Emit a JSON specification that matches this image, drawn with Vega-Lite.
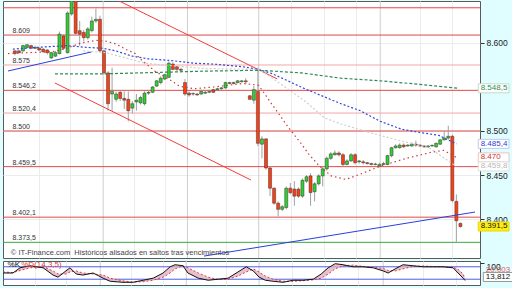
{
"$schema": "https://vega.github.io/schema/vega-lite/v6.json",
"background": "#e0fdff",
"padding": 0,
"spacing": 1,
"config": {
 "locale": {"number": {"decimal": ",", "thousands": ".", "grouping": [3], "currency": ["", ""]}},
 "font": "Liberation Sans",
 "view": {"stroke": "#5a5a5a", "fill": "#ffffff"},
 "axis": {"labelFont": "Liberation Sans", "labelFontSize": 8.5, "labelColor": "#222222", "tickColor": "#333333", "domain": false, "gridColor": "#ececec", "gridWidth": 1}
},
"resolve": {"scale": {"x": "independent", "y": "independent", "color": "independent", "fill": "independent", "stroke": "independent", "strokeDash": "independent"}},
"datasets": {
 "seps": [{"n": 21.8}, {"n": 42.6}, {"n": 60.2}, {"n": 90.2}],
 "levels": [
  {"v": 8640, "k": "r", "lab": ""},
  {"v": 8609, "k": "r", "lab": "8.609"},
  {"v": 8575, "k": "p", "lab": "8.575"},
  {"v": 8546.2, "k": "r", "lab": "8.546,2"},
  {"v": 8520.4, "k": "p", "lab": "8.520,4"},
  {"v": 8500, "k": "r", "lab": "8.500"},
  {"v": 8459.5, "k": "r", "lab": "8.459,5"},
  {"v": 8402.1, "k": "r", "lab": "8.402,1"},
  {"v": 8373.5, "k": "g", "lab": "8.373,5"}
 ],
 "candles": [
  {"n":0,"o":8591,"h":8592,"l":8586,"c":8588},
  {"n":1,"o":8591,"h":8592,"l":8588,"c":8589},
  {"n":2,"o":8591,"h":8598,"l":8590,"c":8597},
  {"n":3,"o":8595,"h":8599,"l":8594,"c":8598},
  {"n":4,"o":8597,"h":8598,"l":8593,"c":8594},
  {"n":5,"o":8594,"h":8597,"l":8593,"c":8595},
  {"n":6,"o":8594,"h":8595,"l":8591,"c":8592},
  {"n":7,"o":8593,"h":8594,"l":8589,"c":8590},
  {"n":8,"o":8592,"h":8593,"l":8587,"c":8589},
  {"n":9,"o":8583,"h":8590,"l":8582,"c":8589},
  {"n":10,"o":8585,"h":8591,"l":8584,"c":8589},
  {"n":11,"o":8588,"h":8613,"l":8587,"c":8610},
  {"n":12,"o":8608,"h":8610,"l":8592,"c":8594},
  {"n":13,"o":8589,"h":8636,"l":8588,"c":8634},
  {"n":14,"o":8633,"h":8662,"l":8631,"c":8659},
  {"n":15,"o":8653,"h":8658,"l":8609,"c":8611},
  {"n":16,"o":8614,"h":8625,"l":8597,"c":8610},
  {"n":17,"o":8612,"h":8615,"l":8602,"c":8606},
  {"n":18,"o":8606,"h":8618,"l":8604,"c":8616},
  {"n":19,"o":8614,"h":8630,"l":8612,"c":8625},
  {"n":20,"o":8625,"h":8639,"l":8623,"c":8627},
  {"n":21,"o":8627,"h":8631,"l":8589,"c":8591},
  {"n":22,"o":8591,"h":8592,"l":8564,"c":8566},
  {"n":23,"o":8566,"h":8568,"l":8523,"c":8531},
  {"n":24,"o":8542,"h":8572,"l":8523,"c":8545},
  {"n":25,"o":8536,"h":8545,"l":8533,"c":8542},
  {"n":26,"o":8544,"h":8546,"l":8534,"c":8537},
  {"n":27,"o":8537,"h":8545,"l":8525,"c":8535},
  {"n":28,"o":8536,"h":8545,"l":8511,"c":8523},
  {"n":29,"o":8526,"h":8534,"l":8520,"c":8531},
  {"n":30,"o":8533,"h":8542,"l":8523,"c":8535},
  {"n":31,"o":8532,"h":8540,"l":8530,"c":8538},
  {"n":32,"o":8531,"h":8545,"l":8529,"c":8543},
  {"n":33,"o":8543,"h":8546,"l":8541,"c":8544},
  {"n":34,"o":8544,"h":8551,"l":8543,"c":8550},
  {"n":35,"o":8551,"h":8558,"l":8550,"c":8557},
  {"n":36,"o":8555,"h":8562,"l":8553,"c":8560},
  {"n":37,"o":8559,"h":8565,"l":8558,"c":8564},
  {"n":38,"o":8561,"h":8579,"l":8560,"c":8577},
  {"n":39,"o":8576,"h":8578,"l":8569,"c":8570},
  {"n":40,"o":8573,"h":8574,"l":8568,"c":8570},
  {"n":41,"o":8570,"h":8572,"l":8567,"c":8569},
  {"n":42,"o":8555,"h":8559,"l":8540,"c":8542},
  {"n":43,"o":8543,"h":8545,"l":8539,"c":8541},
  {"n":44,"o":8542,"h":8544,"l":8540,"c":8542.5},
  {"n":45,"o":8542,"h":8543,"l":8540,"c":8541},
  {"n":46,"o":8542,"h":8547,"l":8541,"c":8545},
  {"n":47,"o":8543,"h":8546,"l":8542,"c":8544},
  {"n":48,"o":8544,"h":8547,"l":8543,"c":8545},
  {"n":49,"o":8547,"h":8548,"l":8543,"c":8544},
  {"n":50,"o":8547,"h":8549,"l":8546,"c":8548},
  {"n":51,"o":8548,"h":8550,"l":8547,"c":8549},
  {"n":52,"o":8549,"h":8556,"l":8548,"c":8555},
  {"n":53,"o":8554,"h":8556,"l":8553,"c":8555},
  {"n":54,"o":8555,"h":8556,"l":8553,"c":8554},
  {"n":55,"o":8555,"h":8558,"l":8554,"c":8557},
  {"n":56,"o":8556,"h":8558,"l":8555,"c":8557},
  {"n":57,"o":8557,"h":8560,"l":8553,"c":8556},
  {"n":58,"o":8540,"h":8541,"l":8535,"c":8536},
  {"n":59,"o":8535,"h":8551,"l":8531,"c":8547},
  {"n":60,"o":8545,"h":8572,"l":8483,"c":8486},
  {"n":61,"o":8485,"h":8494,"l":8469,"c":8491},
  {"n":62,"o":8491,"h":8492,"l":8456,"c":8458},
  {"n":63,"o":8458,"h":8460,"l":8426,"c":8435},
  {"n":64,"o":8435,"h":8436,"l":8416,"c":8418},
  {"n":65,"o":8418,"h":8420,"l":8403,"c":8411},
  {"n":66,"o":8411,"h":8416,"l":8409,"c":8414},
  {"n":67,"o":8413,"h":8437,"l":8411,"c":8435},
  {"n":68,"o":8435,"h":8441,"l":8428,"c":8430},
  {"n":69,"o":8434,"h":8443,"l":8415,"c":8426},
  {"n":70,"o":8434,"h":8436,"l":8424,"c":8426},
  {"n":71,"o":8426,"h":8446,"l":8424,"c":8444},
  {"n":72,"o":8443,"h":8450,"l":8441,"c":8448},
  {"n":73,"o":8449,"h":8452,"l":8415,"c":8430},
  {"n":74,"o":8431,"h":8442,"l":8420,"c":8440},
  {"n":75,"o":8440,"h":8451,"l":8438,"c":8449},
  {"n":76,"o":8449,"h":8460,"l":8437,"c":8457},
  {"n":77,"o":8457,"h":8471,"l":8455,"c":8469},
  {"n":78,"o":8469,"h":8476,"l":8467,"c":8474},
  {"n":79,"o":8473,"h":8478,"l":8472,"c":8475},
  {"n":80,"o":8475,"h":8477,"l":8471,"c":8473},
  {"n":81,"o":8473,"h":8475,"l":8460,"c":8462},
  {"n":82,"o":8462,"h":8468,"l":8461,"c":8466},
  {"n":83,"o":8466,"h":8475,"l":8465,"c":8473},
  {"n":84,"o":8473,"h":8475,"l":8462,"c":8464},
  {"n":85,"o":8465,"h":8467,"l":8463,"c":8466},
  {"n":86,"o":8465,"h":8467,"l":8462,"c":8464},
  {"n":87,"o":8464,"h":8465,"l":8462,"c":8463},
  {"n":88,"o":8463,"h":8464,"l":8461,"c":8462},
  {"n":89,"o":8462,"h":8464,"l":8461,"c":8462.5},
  {"n":90,"o":8460,"h":8464,"l":8459,"c":8462},
  {"n":91,"o":8462,"h":8465,"l":8461,"c":8463},
  {"n":92,"o":8462,"h":8473,"l":8461,"c":8472},
  {"n":93,"o":8472,"h":8482,"l":8470,"c":8481},
  {"n":94,"o":8481,"h":8485,"l":8480,"c":8483},
  {"n":95,"o":8481,"h":8486,"l":8480,"c":8484},
  {"n":96,"o":8484,"h":8486,"l":8481,"c":8482},
  {"n":97,"o":8483,"h":8485,"l":8482,"c":8484},
  {"n":98,"o":8483,"h":8487,"l":8482,"c":8485},
  {"n":99,"o":8485,"h":8489,"l":8482,"c":8484},
  {"n":100,"o":8484,"h":8485,"l":8482,"c":8483},
  {"n":101,"o":8483,"h":8484,"l":8481,"c":8482},
  {"n":102,"o":8482,"h":8484,"l":8481,"c":8483},
  {"n":103,"o":8483,"h":8485,"l":8482,"c":8483.5},
  {"n":104,"o":8482,"h":8487,"l":8481,"c":8486},
  {"n":105,"o":8485,"h":8491,"l":8484,"c":8490},
  {"n":106,"o":8490,"h":8500,"l":8489,"c":8492},
  {"n":107,"o":8492,"h":8506,"l":8490,"c":8494},
  {"n":108,"o":8494,"h":8496,"l":8419,"c":8421},
  {"n":109,"o":8420,"h":8428,"l":8373,"c":8398},
  {"n":110,"o":8395,"h":8396,"l":8390,"c":8391.5}
 ],
 "trend": [
  {"seg": "a", "k": "red", "n": 20.1, "v": 8660.5},
  {"seg": "a", "k": "red", "n": 64.8, "v": 8559.1},
  {"seg": "b", "k": "red", "n": 9.9, "v": 8554.5},
  {"seg": "b", "k": "red", "n": 58.3, "v": 8444.3},
  {"seg": "c", "k": "blue", "n": -1.7, "v": 8568.2},
  {"seg": "c", "k": "blue", "n": 18.9, "v": 8589.8},
  {"seg": "d", "k": "blue", "n": 46.7, "v": 8357.9},
  {"seg": "d", "k": "blue", "n": 113.6, "v": 8407.9}
 ],
 "ma": [
  {"m":"blue","n":-0.5,"v":8593},{"m":"blue","n":5.6,"v":8595},{"m":"blue","n":12.8,"v":8597},{"m":"blue","n":17.6,"v":8595},{"m":"blue","n":21.8,"v":8594},{"m":"blue","n":24.9,"v":8591},{"m":"blue","n":29,"v":8585},{"m":"blue","n":32.9,"v":8582},{"m":"blue","n":38.7,"v":8580},{"m":"blue","n":44.2,"v":8577},{"m":"blue","n":49.1,"v":8576},{"m":"blue","n":56.3,"v":8573},{"m":"blue","n":60.2,"v":8570},{"m":"blue","n":63.6,"v":8565},{"m":"blue","n":71.6,"v":8548},{"m":"blue","n":80.5,"v":8531},{"m":"blue","n":85.3,"v":8523},{"m":"blue","n":90.2,"v":8511},{"m":"blue","n":95.5,"v":8502},{"m":"blue","n":99.1,"v":8499},{"m":"blue","n":104.7,"v":8495},{"m":"blue","n":109,"v":8485.4},
  {"m":"green","n":9.9,"v":8565},{"m":"green","n":22.5,"v":8565},{"m":"green","n":38.7,"v":8567},{"m":"green","n":46.7,"v":8568},{"m":"green","n":60.2,"v":8569},{"m":"green","n":70.8,"v":8566},{"m":"green","n":80.5,"v":8560},{"m":"green","n":90.2,"v":8557},{"m":"green","n":99.9,"v":8553},{"m":"green","n":109.5,"v":8548.5},
  {"m":"red","n":-1.7,"v":8588},{"m":"red","n":3.1,"v":8589},{"m":"red","n":9.2,"v":8590},{"m":"red","n":12.8,"v":8594},{"m":"red","n":16.4,"v":8600},{"m":"red","n":20.1,"v":8603},{"m":"red","n":22.5,"v":8602},{"m":"red","n":24.9,"v":8599},{"m":"red","n":27.3,"v":8593},{"m":"red","n":29.7,"v":8588},{"m":"red","n":31.4,"v":8580},{"m":"red","n":34.6,"v":8568},{"m":"red","n":38.7,"v":8557},{"m":"red","n":40.6,"v":8551},{"m":"red","n":44.2,"v":8548},{"m":"red","n":49.1,"v":8550},{"m":"red","n":56.3,"v":8554},{"m":"red","n":60.2,"v":8552},{"m":"red","n":62.9,"v":8534},{"m":"red","n":64.3,"v":8525},{"m":"red","n":67.7,"v":8503},{"m":"red","n":70.8,"v":8485},{"m":"red","n":72.5,"v":8474},{"m":"red","n":75.2,"v":8460},{"m":"red","n":78.1,"v":8449},{"m":"red","n":81.7,"v":8445},{"m":"red","n":85.3,"v":8451},{"m":"red","n":90.2,"v":8460},{"m":"red","n":96.7,"v":8469},{"m":"red","n":103,"v":8476},{"m":"red","n":105.9,"v":8478},{"m":"red","n":109,"v":8470},
  {"m":"grey","n":16.9,"v":8591},{"m":"grey","n":22.5,"v":8589},{"m":"grey","n":32.2,"v":8577},{"m":"grey","n":46.7,"v":8571},{"m":"grey","n":60.2,"v":8570},{"m":"grey","n":63.6,"v":8560},{"m":"grey","n":71.6,"v":8534},{"m":"grey","n":76.4,"v":8515},{"m":"grey","n":80.5,"v":8508},{"m":"grey","n":87.8,"v":8498},{"m":"grey","n":95,"v":8489},{"m":"grey","n":102.3,"v":8481},{"m":"grey","n":109,"v":8459.8}
 ],
 "tags": [
  {"v": 8548.5, "t": "8.548,5", "m": "green"},
  {"v": 8485.4, "t": "8.485,4", "m": "blue"},
  {"v": 8470, "t": "8.470", "m": "red"},
  {"v": 8459.8, "t": "8.459,8", "m": "grey"},
  {"v": 8391.5, "t": "8.391,5", "m": "last"}
 ],
 "osc": [
  {"n":-1.7,"k":50,"d":55},{"n":0.7,"k":50,"d":52},{"n":2.4,"k":75,"d":62},{"n":4.8,"k":85,"d":75},{"n":8,"k":75,"d":80},{"n":10.4,"k":40,"d":60},{"n":11.6,"k":30,"d":45},{"n":13.5,"k":60,"d":45},{"n":14.5,"k":75,"d":55},{"n":16,"k":45,"d":60},{"n":17.6,"k":40,"d":50},{"n":20.1,"k":50,"d":45},{"n":22.5,"k":25,"d":40},{"n":24.2,"k":10,"d":25},{"n":27.3,"k":5,"d":12},{"n":29.7,"k":5,"d":6},{"n":32.2,"k":15,"d":8},{"n":34.6,"k":25,"d":15},{"n":37,"k":50,"d":30},{"n":38.7,"k":80,"d":50},{"n":39.9,"k":90,"d":70},{"n":41.8,"k":85,"d":85},{"n":43,"k":50,"d":75},{"n":45.5,"k":25,"d":50},{"n":47.9,"k":15,"d":30},{"n":50.3,"k":20,"d":18},{"n":52.7,"k":25,"d":20},{"n":55.1,"k":55,"d":35},{"n":57.1,"k":80,"d":55},{"n":58.8,"k":60,"d":70},{"n":60.2,"k":30,"d":55},{"n":61.7,"k":15,"d":35},{"n":63.6,"k":10,"d":20},{"n":66,"k":5,"d":10},{"n":68.4,"k":15,"d":10},{"n":70.8,"k":15,"d":13},{"n":73.3,"k":20,"d":17},{"n":75.2,"k":45,"d":25},{"n":76.9,"k":75,"d":45},{"n":78.6,"k":95,"d":70},{"n":80.5,"k":90,"d":85},{"n":82.9,"k":80,"d":88},{"n":85.3,"k":80,"d":82},{"n":87.8,"k":75,"d":78},{"n":90.2,"k":60,"d":72},{"n":91.4,"k":50,"d":62},{"n":93.1,"k":70,"d":60},{"n":95,"k":90,"d":70},{"n":97.4,"k":85,"d":82},{"n":99.9,"k":80,"d":84},{"n":102.3,"k":80,"d":81},{"n":104.7,"k":80,"d":80},{"n":107.1,"k":75,"d":78},{"n":108.3,"k":50,"d":68},{"n":109.5,"k":25,"d":45},{"n":110,"k":13.812,"d":20.003}
 ],
 "mom": [
  {"n":-1.7,"v":60},{"n":10,"v":70},{"n":12.5,"v":88},{"n":14,"v":97},{"n":15.5,"v":94},{"n":17.5,"v":80},{"n":25,"v":50},{"n":35,"v":60},{"n":38.5,"v":88},{"n":40.5,"v":97},{"n":42.5,"v":93},{"n":45,"v":75},{"n":55,"v":60},{"n":65,"v":40},{"n":73,"v":70},{"n":76,"v":90},{"n":78,"v":97},{"n":80,"v":96},{"n":82,"v":90},{"n":85,"v":80},{"n":95,"v":82},{"n":105,"v":80},{"n":110,"v":40}
 ]
},
"vconcat": [
 {
  "width": 477, "height": 257,
  "resolve": {"scale": {"color": "independent", "fill": "independent", "stroke": "independent", "strokeDash": "independent"}},
  "layer": [
   {"data": {"name": "seps"}, "mark": {"type": "rule", "color": "#cfcfcf"},
    "encoding": {"x": {"field": "n", "type": "quantitative", "title": null, "scale": {"domain": [-1.7, 113.6], "nice": false, "zero": false}, "axis": {"orient": "bottom", "labels": false, "ticks": false, "grid": true, "values": [6.0, 13.5, 29.3, 37.0, 52.2, 68.2, 76.2, 84.1, 99.9, 107.8], "minExtent": 0, "maxExtent": 0}}}},
   {"data": {"name": "levels"}, "mark": {"type": "rule", "strokeWidth": 1},
    "encoding": {"y": {"field": "v", "type": "quantitative", "title": null, "scale": {"domain": [8355.7, 8647.7], "nice": false, "zero": false}, "axis": {"orient": "right", "values": [8400, 8450, 8500, 8600], "format": ",d", "grid": true, "tickSize": 4, "labelPadding": 2}},
     "color": {"field": "k", "type": "nominal", "scale": {"domain": ["r", "p", "g"], "range": ["#e24848", "#f3a6a6", "#3ca83c"]}, "legend": null}}},
   {"data": {"name": "candles"}, "mark": {"type": "rule", "color": "#a0a0a0", "clip": true},
    "encoding": {"x": {"field": "n", "type": "quantitative", "title": null}, "y": {"field": "l", "type": "quantitative", "title": null}, "y2": {"field": "h"}}},
   {"data": {"name": "candles"}, "mark": {"type": "bar", "size": 3, "clip": true, "stroke": "#333333", "strokeWidth": 0.5},
    "encoding": {"x": {"field": "n", "type": "quantitative", "title": null}, "y": {"field": "o", "type": "quantitative", "title": null}, "y2": {"field": "c"},
     "fill": {"condition": {"test": "datum.c >= datum.o", "value": "#2fd02f"}, "value": "#ff3d12"}}},
   {"data": {"name": "trend"}, "mark": {"type": "line", "clip": true, "strokeWidth": 1},
    "encoding": {"x": {"field": "n", "type": "quantitative", "title": null}, "y": {"field": "v", "type": "quantitative", "title": null}, "detail": {"field": "seg"},
     "color": {"field": "k", "type": "nominal", "scale": {"domain": ["red", "blue"], "range": ["#f23c3c", "#2a3ee0"]}, "legend": null}}},
   {"data": {"name": "ma"}, "mark": {"type": "line", "clip": true, "strokeWidth": 1.2},
    "encoding": {"x": {"field": "n", "type": "quantitative", "title": null}, "y": {"field": "v", "type": "quantitative", "title": null},
     "color": {"field": "m", "type": "nominal", "scale": {"domain": ["blue", "green", "red", "grey"], "range": ["#2f49dd", "#2e8b57", "#cd3b3b", "#cfcfcf"]}, "legend": null},
     "strokeDash": {"field": "m", "type": "nominal", "scale": {"domain": ["blue", "green", "red", "grey"], "range": [[2, 2], [3, 2], [1.5, 3], [2, 2]]}, "legend": null}}},
   {"data": {"name": "levels"}, "transform": [{"filter": "datum.lab != ''"}], "mark": {"type": "text", "align": "left", "baseline": "bottom", "dy": -1, "fontSize": 7, "color": "#333333"},
    "encoding": {"x": {"datum": -0.6}, "y": {"field": "v", "type": "quantitative", "title": null}, "text": {"field": "lab"}}},
   {"data": {"values": [{"t": "© IT-Finance.com\u00a0 Históricos alisados en saltos tras vencimientos"}]}, "mark": {"type": "text", "align": "left", "baseline": "middle", "fontSize": 7.5, "color": "#444444"},
    "encoding": {"x": {"datum": -1.0}, "y": {"datum": 8361}, "text": {"field": "t"}}},
   {"data": {"name": "tags"}, "mark": {"type": "rect", "yOffset": -4.5, "y2Offset": 4.5, "strokeWidth": 1},
    "encoding": {"x": {"datum": 114.4}, "x2": {"datum": 122}, "y": {"field": "v", "type": "quantitative", "title": null}, "y2": {"field": "v"},
     "fill": {"field": "m", "type": "nominal", "scale": {"domain": ["green", "blue", "red", "grey", "last"], "range": ["#ffffff", "#ffffff", "#ffffff", "#ffffff", "#ffee11"]}, "legend": null},
     "stroke": {"field": "m", "type": "nominal", "scale": {"domain": ["green", "blue", "red", "grey", "last"], "range": ["#c4dcc4", "#c4c8e8", "#e8c4c4", "#e0e0e0", "#e8d800"]}, "legend": null}}},
   {"data": {"name": "tags"}, "mark": {"type": "text", "align": "left", "baseline": "middle", "fontSize": 8},
    "encoding": {"x": {"datum": 115.0}, "y": {"field": "v", "type": "quantitative", "title": null}, "text": {"field": "t"},
     "color": {"field": "m", "type": "nominal", "scale": {"domain": ["green", "blue", "red", "grey", "last"], "range": ["#2e8b57", "#3040d0", "#d03030", "#b8b8b8", "#111111"]}, "legend": null}}}
  ]
 },
 {
  "width": 477, "height": 24,
  "layer": [
   {"data": {"name": "seps"}, "mark": {"type": "rule", "color": "#cfcfcf"},
    "encoding": {"x": {"field": "n", "type": "quantitative", "title": null, "scale": {"domain": [-1.7, 113.6], "nice": false, "zero": false}, "axis": {"orient": "bottom", "labels": false, "ticks": false, "grid": true, "values": [6.0, 13.5, 29.3, 37.0, 52.2, 68.2, 76.2, 84.1, 99.9, 107.8], "minExtent": 0, "maxExtent": 0}}}},
   {"data": {"values": [{"b": 20}, {"b": 80}]}, "mark": {"type": "rule", "color": "#4c5cf0"},
    "encoding": {"y": {"field": "b", "type": "quantitative", "title": null, "scale": {"domain": [-8, 108], "nice": false, "zero": false}, "axis": {"orient": "right", "values": [100], "format": "d", "grid": false, "tickSize": 4, "labelPadding": 2, "labelBaseline": "top"}}}},
   {"data": {"name": "osc"}, "mark": {"type": "area", "color": "#e3b0c0", "opacity": 0.8},
    "encoding": {"x": {"field": "n", "type": "quantitative", "title": null}, "y": {"field": "k", "type": "quantitative", "title": null}, "y2": {"field": "d"}}},
   {"data": {"name": "osc"}, "mark": {"type": "line", "color": "#d84040", "strokeDash": [2, 2], "strokeWidth": 1},
    "encoding": {"x": {"field": "n", "type": "quantitative", "title": null}, "y": {"field": "d", "type": "quantitative", "title": null}}},
   {"data": {"name": "osc"}, "mark": {"type": "line", "color": "#111111", "strokeWidth": 1},
    "encoding": {"x": {"field": "n", "type": "quantitative", "title": null}, "y": {"field": "k", "type": "quantitative", "title": null}}},
   {"data": {"values": [{"t": "%K"}]}, "mark": {"type": "text", "align": "left", "baseline": "top", "fontSize": 8, "color": "#111111"},
    "encoding": {"x": {"datum": -0.6}, "y": {"datum": 106}, "text": {"field": "t"}}},
   {"data": {"values": [{"t": "%D(14,3,5)"}]}, "mark": {"type": "text", "align": "left", "baseline": "top", "fontSize": 8, "color": "#e04040"},
    "encoding": {"x": {"datum": 2.7}, "y": {"datum": 106}, "text": {"field": "t"}}},
   {"data": {"values": [{"v": 20.003, "t": "20,003"}]}, "mark": {"type": "text", "align": "left", "baseline": "middle", "fontSize": 8, "dy": -9, "color": "#e06060"},
    "encoding": {"x": {"datum": 115.0}, "y": {"field": "v", "type": "quantitative", "title": null}, "text": {"field": "t"}}},
   {"data": {"values": [{"v": 13.812, "t": "13,812"}]}, "mark": {"type": "rect", "yOffset": -8, "y2Offset": 1, "fill": "#ffffff", "stroke": "#999999", "strokeWidth": 1},
    "encoding": {"x": {"datum": 114.4}, "x2": {"datum": 122}, "y": {"field": "v", "type": "quantitative", "title": null}, "y2": {"field": "v"}}},
   {"data": {"values": [{"v": 13.812, "t": "13,812"}]}, "mark": {"type": "text", "align": "left", "baseline": "middle", "fontSize": 8, "dy": -3.5, "color": "#111111"},
    "encoding": {"x": {"datum": 115.0}, "y": {"field": "v", "type": "quantitative", "title": null}, "text": {"field": "t"}}}
  ]
 },
 {
  "width": 477, "height": 4,
  "layer": [
   {"data": {"name": "mom"}, "mark": {"type": "line", "color": "#111111", "strokeWidth": 1, "clip": true},
    "encoding": {"x": {"field": "n", "type": "quantitative", "title": null, "scale": {"domain": [-1.7, 113.6], "nice": false, "zero": false}, "axis": null}, "y": {"field": "v", "type": "quantitative", "title": null, "scale": {"domain": [80, 100], "nice": false, "zero": false}, "axis": null}}},
   {"data": {"values": [{"t": "Mom (10)"}]}, "mark": {"type": "text", "align": "left", "baseline": "top", "fontSize": 8, "color": "#e04040", "dy": 1, "clip": true},
    "encoding": {"x": {"datum": -0.6}, "y": {"datum": 100}, "text": {"field": "t"}}}
  ]
 }
]
}
